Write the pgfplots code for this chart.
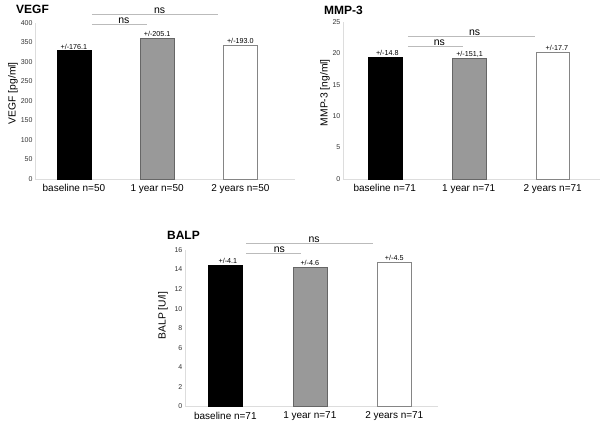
\documentclass[border=0pt]{standalone}
\usepackage{pgfplots}
\pgfplotsset{compat=1.18}
\usepackage{fontspec}
\setmainfont{Liberation Sans}
\definecolor{axgray}{HTML}{DDDDDD}
\definecolor{brgray}{HTML}{BBBBBB}
\definecolor{midgray}{HTML}{999999}
\definecolor{edgegray}{HTML}{666666}
\pgfplotsset{
  panel/.style={
    scale only axis,
    axis lines*=left,
    axis line style={draw=axgray, line width=0.6pt, -},
    major tick length=0pt,
    xtick={0,1,2},
    xticklabel style={font=\fontsize{10}{11}\selectfont, yshift=-2pt},
    yticklabel style={font=\fontsize{7}{8}\selectfont, text=black!80, xshift=1pt},
    ylabel style={font=\fontsize{10.3}{11}\selectfont},
    /pgf/number format/assume math mode=true,
    ymin=0,
    clip=false,
    ybar, bar width=34pt, bar shift=0pt,
  },
}
\tikzset{
  errlab/.style={font=\fontsize{7.2}{8}\selectfont, anchor=south, inner sep=1pt},
  nslab/.style={font=\fontsize{10.5}{11}\selectfont, anchor=south, inner sep=1pt},
}
\begin{document}
\begin{tikzpicture}
\path (0pt,0pt) rectangle (600pt,427pt);

% VEGF
\begin{axis}[panel, at={(35pt,248pt)}, anchor=south west, width=260pt, height=156pt,
  xmin=-0.468, xmax=2.655, ymax=400, ytick={0,50,...,400},
  xticklabels={baseline n=50, 1 year n=50, 2 years n=50},
  ylabel={VEGF [pg/ml]}, ylabel style={at={(axis description cs:-0.085,0.55)}, anchor=center}]
\addplot[fill=black, draw=black] coordinates {(0,329)};
\addplot[fill=midgray, draw=edgegray] coordinates {(1,361)};
\addplot[fill=white, draw=edgegray!80] coordinates {(2,343)};
\node[errlab] at (axis cs:0,329) {+/-176.1};
\node[errlab] at (axis cs:1,361) {+/-205.1};
\node[errlab] at (axis cs:2,343) {+/-193.0};
\draw[brgray, line width=0.7pt] (axis cs:0.216,422) -- (axis cs:1.73,422);
\draw[brgray, line width=0.7pt] (axis cs:0.216,397) -- (axis cs:0.877,397);
\node[nslab] at (axis cs:1.03,421) {ns};
\node[nslab] at (axis cs:0.6,396) {ns};
\end{axis}
\node[anchor=west, font=\bfseries\fontsize{12}{13}\selectfont, inner sep=0pt] at (16pt,418pt) {VEGF};

% MMP-3
\begin{axis}[panel, at={(343pt,248pt)}, anchor=south west, width=257pt, height=157pt,
  xmin=-0.5, xmax=2.56, ymax=25, ytick={0,5,...,25},
  xticklabels={baseline n=71, 1 year n=71, 2 years n=71},
  ylabel={MMP-3 [ng/ml]}, ylabel style={at={(axis description cs:-0.07,0.55)}, anchor=center}]
\addplot[fill=black, draw=black] coordinates {(0,19.4)};
\addplot[fill=midgray, draw=edgegray] coordinates {(1,19.2)};
\addplot[fill=white, draw=edgegray!80] coordinates {(2,20.2)};
\node[errlab] at (axis cs:0.03,19.4) {+/-14.8};
\node[errlab] at (axis cs:1.01,19.2) {+/-151,1};
\node[errlab] at (axis cs:2.05,20.2) {+/-17.7};
\draw[brgray, line width=0.7pt] (axis cs:0.274,22.66) -- (axis cs:1.786,22.66);
\draw[brgray, line width=0.7pt] (axis cs:0.274,21.07) -- (axis cs:0.93,21.07);
\node[nslab] at (axis cs:1.07,22.6) {ns};
\node[nslab] at (axis cs:0.65,21.0) {ns};
\end{axis}
\node[anchor=west, font=\bfseries\fontsize{12}{13}\selectfont, inner sep=0pt] at (324pt,417pt) {MMP-3};

% BALP
\begin{axis}[panel, at={(185pt,20.3pt)}, anchor=south west, width=253pt, height=156.7pt,
  xmin=-0.479, xmax=2.515, ymax=16, ytick={0,2,...,16},
  xticklabels={baseline n=71, 1 year n=71, 2 years n=71},
  ylabel={BALP [U/l]}, ylabel style={at={(axis description cs:-0.087,0.58)}, anchor=center}]
\addplot[fill=black, draw=black] coordinates {(0,14.45)};
\addplot[fill=midgray, draw=edgegray] coordinates {(1,14.27)};
\addplot[fill=white, draw=edgegray!80] coordinates {(2,14.78)};
\node[errlab] at (axis cs:0.03,14.45) {+/-4.1};
\node[errlab] at (axis cs:1.0,14.27) {+/-4.6};
\node[errlab] at (axis cs:2.0,14.78) {+/-4.5};
\draw[brgray, line width=0.7pt] (axis cs:0.25,16.68) -- (axis cs:1.746,16.68);
\draw[brgray, line width=0.7pt] (axis cs:0.25,15.67) -- (axis cs:0.90,15.67);
\node[nslab] at (axis cs:1.05,16.62) {ns};
\node[nslab] at (axis cs:0.64,15.6) {ns};
\end{axis}
\node[anchor=west, font=\bfseries\fontsize{12}{13}\selectfont, inner sep=0pt] at (167pt,191pt) {BALP};
\end{tikzpicture}
\end{document}
